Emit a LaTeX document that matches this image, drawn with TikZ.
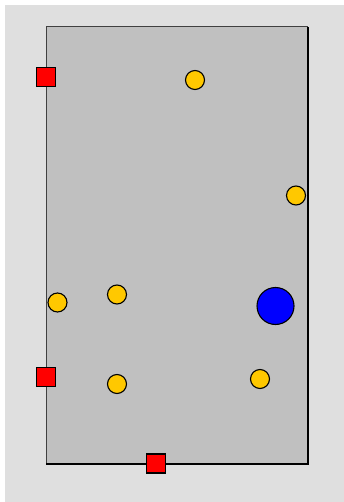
\documentclass[tikz,border=0pt]{standalone}
\usepackage{tikz}
\usetikzlibrary{positioning}

\definecolor{bggray}{HTML}{DFDFDF}
\definecolor{roomgray}{HTML}{C0C0C0}
\definecolor{coinyellow}{HTML}{FFC800}

\begin{document}
\begin{tikzpicture}[x=1pt, y=-1pt,
    port/.style={rectangle, draw, fill=red, minimum size=19pt, inner sep=0pt, line width=1.1pt},
    coin/.style={circle, draw, fill=coinyellow, minimum size=19pt, inner sep=0pt, line width=1.1pt},
    goal/.style={circle, draw, fill=blue, minimum size=37pt, inner sep=0pt, line width=1.1pt}
]
    \useasboundingbox (0,0) rectangle (344,502);
    \fill[bggray] (5,5) rectangle (344,502);
    \fill[roomgray] (46,27) rectangle (308,464);
    % lit edges thin, shadow edges heavier
    \draw[black!75, line width=1pt] (46,464) -- (46,27) -- (308,27);
    \draw[black, line width=1.8pt] (308,27) -- (308,464) -- (46,464);

    \node[port] (doorA) at (46,77) {};
    \node[port] (doorB) at (46,377) {};
    \node[port] (doorC) at (156,463.5) {};

    \node[coin] (coin1) at (195,80) {};
    \node[coin] (coin2) at (296,195.5) {};
    \node[coin] (coin3) at (57.5,302.5) {};
    \node[coin] (coin4) at (117,294.5) {};
    \node[coin] (coin5) at (117,384) {};
    \node[coin] (coin6) at (260,379) {};

    \node[goal] (player) at (275.5,306) {};
\end{tikzpicture}
\end{document}
